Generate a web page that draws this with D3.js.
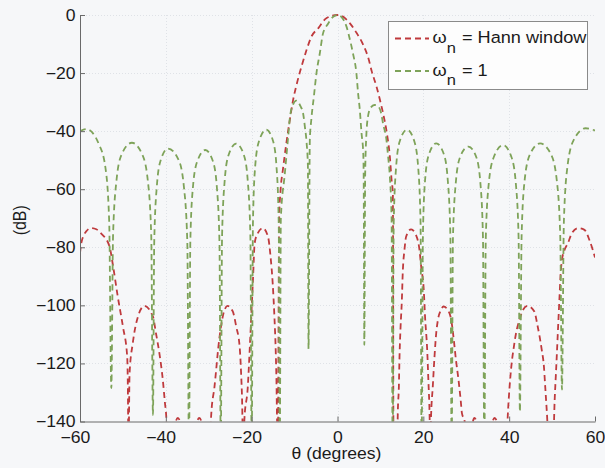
<!DOCTYPE html>
<html>
<head>
<meta charset="utf-8">
<script src="https://cdn.jsdelivr.net/npm/d3@7"></script>
<style>
  html, body { margin: 0; padding: 0; background: #f6f7f9; }
  svg { display: block; }
</style>
</head>
<body>
<div id="chart"></div>
<script>
// Angle axis ticks (degrees) and level axis ticks (dB)
const thetaTicks = [-60, -40, -20, 0, 20, 40, 60];
const dbTicks = [0, -20, -40, -60, -80, -100, -120, -140];

// Legend entries: weight name shown after "ω_n ="
const weightLabels = ["Hann window", "1"];
const seriesColors = ["#bf3a3d", "#7ea359"];

// Array pattern with Hann-window weights: [theta (deg), level (dB)]
const hannPattern = [
  [-60,-82],[-59.7,-78.6],[-58.6,-74.6],[-57.4,-73.4],[-56.2,-73.8],[-55.1,-75.2],[-53.1,-79.8],[-52.4,-85.5],[-51.2,-97],[-50.0,-107.3],[-49.0,-117.7],[-48.85,-128],[-48.7,-150],
  [-48.45,-123.4],[-47.7,-113],[-46.5,-103.9],[-45.0,-100.2],[-43.0,-103.9],[-42.3,-109.6],[-41.5,-116.5],[-40.7,-125.7],[-40.2,-133.7],[-39.9,-138.3],[-39.6,-150],
  [-37.2,-138.8],[-34.7,-150],[-32.2,-138.8],[-29.7,-150],
  [-29.45,-138.3],[-28.66,-128],[-27.5,-111],[-26.33,-101.6],[-25.6,-100.2],[-24.4,-102.1],[-23.6,-107.3],[-22.8,-114.2],[-22.46,-123.4],[-22.23,-132.6],[-22.0,-150],
  [-21.7,-139.5],[-20.9,-128],[-20.5,-116.5],[-20.1,-103.9],[-19.7,-91.3],[-19.3,-78.6],[-18.6,-75.2],[-17.4,-73.4],[-16.2,-76.3],[-15.6,-83.2],[-15.1,-92.4],[-14.7,-103.9],[-14.4,-115.4],[-14.2,-128],[-14.1,-138.3],[-13.9,-150],
  [-13.6,-70],[-13.3,-61],[-12.7,-53],[-12.0,-45],[-11.2,-37],[-10.35,-29.3],[-9.55,-24.1],[-8.4,-17.8],[-7.2,-12],[-6.1,-7.5],[-4.5,-4.6],[-2.6,-1.1],[0,0],
  [1.5,-0.8],[2.9,-2.9],[4.5,-6.3],[6.0,-10.3],[7.2,-14.9],[8.0,-19.5],[9.1,-24.7],[9.9,-29.3],[10.7,-34.4],[11.5,-40.7],[12.2,-48.8],[12.6,-56.8],[12.9,-61.4],[13.05,-150],
  [13.9,-150],[14.05,-137],[14.3,-128],[14.45,-117.7],[14.7,-107.3],[15.0,-98.1],[15.2,-88.9],[15.6,-80.9],[16.0,-76.3],[17.15,-73.8],[18.3,-75.8],[19.1,-80.9],[19.5,-86.7],[20.1,-94.7],[20.4,-103.9],[20.9,-115.4],[21.2,-126.8],[21.45,-137.2],[21.6,-150],
  [21.8,-138.3],[22.2,-128],[22.6,-117.7],[23.0,-109.6],[23.4,-105],[24.1,-101.6],[24.7,-100.4],[25.7,-101.6],[26.5,-105],[27.1,-111.9],[27.6,-118.8],[28.2,-125.7],[28.7,-132.6],[29.0,-137.2],[29.6,-139.7],[30.2,-150],
  [31.9,-138.8],[34.3,-150],[36.6,-138.8],[39.3,-150],
  [39.7,-137.2],[40.1,-128],[40.5,-121.1],[41.1,-114.2],[41.6,-109.6],[42.4,-105],[43.2,-101.6],[44.3,-100.2],[45.9,-102.2],[46.5,-106.2],[47.1,-110.8],[47.6,-115.4],[48.1,-121.1],[48.4,-128],[48.8,-137.2],[49.3,-150],
  [50.2,-150],[50.6,-132.6],[50.9,-123.4],[51.7,-98.1],[52.0,-88.9],[52.3,-84.4],[52.9,-80.9],[53.7,-78.6],[54.4,-75.8],[56.0,-73.4],[57.55,-74],[58.7,-77.5],[59.5,-81],[60,-83.5]
];

// Array pattern with uniform weights: [theta (deg), level (dB)]
const uniformPattern = [
  [-60,-40],[-58.5,-39.3],[-55.6,-44.5],[-54.1,-52.3],[-53.2,-71],[-52.7,-128.5],
  [-52.3,-76],[-51.5,-57],[-50.3,-48],[-47.9,-44],[-45.5,-48],[-44.2,-57],[-43.4,-76],[-43.0,-137.7],
  [-42.7,-78],[-42.1,-59],[-41.2,-50],[-39.5,-46],[-37.0,-50],[-35.8,-59],[-35.0,-78],[-34.6,-150],
  [-34.3,-78.5],[-33.7,-59.5],[-32.7,-50.5],[-30.8,-46.5],[-29.0,-50.5],[-28.1,-59.5],[-27.5,-78.5],[-27.2,-150],
  [-26.9,-76.3],[-26.3,-57.3],[-25.4,-48.3],[-23.6,-44.3],[-21.8,-48.3],[-20.9,-57.3],[-20.3,-76.3],[-20.0,-150],
  [-19.7,-71.5],[-19.2,-52.5],[-18.3,-43.5],[-16.6,-39.5],[-15.0,-43.5],[-14.2,-52.5],[-13.7,-71.5],[-13.45,-150],
  [-13.2,-70],[-12.3,-55],[-11.5,-42],[-11.1,-35.5],[-10.4,-31],[-9.6,-29.5],[-8.6,-31.5],[-8.0,-34],[-7.6,-38.5],[-7.2,-44],[-6.9,-52],[-6.75,-115],
  [-6.45,-43],[-6.1,-36],[-5.5,-28],[-4.9,-20],[-4.1,-13],[-3.4,-6.5],[-2.2,-3],[-1.0,-0.6],[0,0],
  [1.0,-0.8],[2.1,-4],[2.9,-8.5],[3.6,-13.2],[4.4,-20],[4.8,-27],[5.2,-32.7],[5.6,-40.7],[6.0,-47.6],[6.1,-56],[6.25,-113.6],
  [6.45,-55],[6.7,-42],[7.1,-35],[7.7,-32],[8.6,-31],[9.5,-31.5],[10.2,-34],[10.6,-37.3],[11.4,-43],[11.8,-48.8],[12.2,-55.7],[12.6,-70],[12.85,-150],
  [13.1,-71.5],[13.65,-52.5],[14.5,-43.5],[16.2,-39.5],[17.9,-43.5],[18.8,-52.5],[19.35,-71.5],[19.6,-150],
  [19.9,-76],[20.4,-57],[21.3,-48],[23.0,-44.2],[24.8,-48],[25.7,-57],[26.3,-76],[26.6,-150],
  [26.9,-77],[27.55,-58],[28.55,-49],[30.5,-45.3],[32.35,-49],[33.3,-58],[33.9,-77],[34.2,-150],
  [34.55,-77],[35.25,-58],[36.4,-49],[38.6,-44.8],[40.55,-49],[41.55,-58],[42.2,-77],[42.5,-136.6],
  [42.9,-76],[43.6,-57],[44.85,-48],[47.2,-44.2],[49.75,-48],[51.1,-57],[51.9,-76],[52.3,-129],
  [52.75,-71],[53.6,-52],[55.05,-43],[57.8,-39],[60,-39.8]
];

const W = 605, H = 468;
const FONT = "'Liberation Sans', Arial, Helvetica, sans-serif";
const STRETCH = "scale(1.1,1)";

const x = d3.scaleLinear().domain([-60, 60]).range([80, 595]);
const y = d3.scaleLinear().domain([-140, 0]).range([421.5, 15]);

const svg = d3.select("#chart").append("svg")
  .attr("width", W).attr("height", H)
  .attr("viewBox", `0 0 ${W} ${H}`);

svg.append("rect").attr("width", W).attr("height", H).attr("fill", "#f6f7f9");

// Faint dotted grid at every tick
const grid = svg.append("g").attr("stroke", "#dfe2e7").attr("stroke-width", 1)
  .attr("stroke-dasharray", "1,2");
grid.selectAll("line.v").data(thetaTicks.slice(1, -1)).join("line")
  .attr("x1", d => Math.round(x(d)) + 0.5).attr("x2", d => Math.round(x(d)) + 0.5)
  .attr("y1", y(0)).attr("y2", y(-140));
grid.selectAll("line.h").data(dbTicks.slice(0, -1)).join("line")
  .attr("y1", d => Math.round(y(d)) + 0.5).attr("y2", d => Math.round(y(d)) + 0.5)
  .attr("x1", x(-60)).attr("x2", x(60));

// Clip the patterns to the axes box
svg.append("clipPath").attr("id", "plotClip")
  .append("rect").attr("x", x(-60)).attr("y", 5)
  .attr("width", x(60) - x(-60)).attr("height", y(-140) - 5);

const line = d3.line()
  .x(d => x(d[0]))
  .y(d => y(d[1]))
  .curve(d3.curveMonotoneX);

const plot = svg.append("g").attr("clip-path", "url(#plotClip)");
[hannPattern, uniformPattern].forEach((data, i) => {
  plot.append("path")
    .datum(data)
    .attr("d", line)
    .attr("fill", "none")
    .attr("stroke", seriesColors[i])
    .attr("stroke-width", 1.8)
    .attr("stroke-dasharray", "6,4");
});

// Axes (left and bottom only, ticks pointing inward)
const minus = v => (v < 0 ? "\u2212" + Math.abs(v) : String(v));

const gy = svg.append("g")
  .attr("transform", `translate(${x(-60)},0)`)
  .call(d3.axisLeft(y).tickValues(dbTicks).tickSizeInner(-5).tickSizeOuter(0)
    .tickPadding(4).tickFormat(minus));

const gx = svg.append("g")
  .attr("transform", `translate(0,${y(-140)})`)
  .call(d3.axisBottom(x).tickValues(thetaTicks).tickSizeInner(-5).tickSizeOuter(0)
    .tickPadding(10).tickFormat(d => String(Math.abs(d))));

[gx, gy].forEach(g => {
  g.attr("font-family", FONT).attr("font-size", 16);
  g.select(".domain").attr("stroke", "#6a6a6a");
  g.selectAll(".tick line").attr("stroke", "#6a6a6a");
  g.selectAll(".tick text").attr("fill", "#1b1b1b").attr("transform", STRETCH);
});

// Negative angle labels: digits centred on the tick, minus sign hanging to the left
gx.selectAll(".tick").each(function (d) {
  if (d < 0) {
    const t = d3.select(this).select("text");
    const w = t.node().getComputedTextLength();
    d3.select(this).append("text")
      .attr("fill", "#1b1b1b")
      .attr("y", t.attr("y")).attr("dy", t.attr("dy"))
      .attr("x", -w / 2)
      .attr("text-anchor", "end")
      .attr("transform", STRETCH)
      .text("\u2212");
  }
});

// Axis titles
svg.append("g").attr("transform", `translate(${(x(-60) + x(60)) / 2 - 1},459) ${STRETCH}`)
  .append("text")
  .attr("font-family", FONT).attr("font-size", 16).attr("fill", "#1b1b1b")
  .attr("text-anchor", "middle")
  .text("\u03B8 (degrees)");

svg.append("g").attr("transform", `translate(26,${(y(0) + y(-140)) / 2 + 2}) ${STRETCH} rotate(-90)`)
  .append("text")
  .attr("font-family", FONT).attr("font-size", 16).attr("fill", "#1b1b1b")
  .attr("text-anchor", "middle")
  .text("(dB)");

// Legend
const legend = svg.append("g");
legend.append("rect")
  .attr("x", 388.5).attr("y", 21.5).attr("width", 199).attr("height", 68)
  .attr("fill", "#fdfdfd").attr("stroke", "#8a8a8a").attr("stroke-width", 1);

weightLabels.forEach((label, i) => {
  const cy = 38.5 + i * 32.5;
  legend.append("line")
    .attr("x1", 395).attr("x2", 429).attr("y1", cy).attr("y2", cy)
    .attr("stroke", seriesColors[i]).attr("stroke-width", 1.8)
    .attr("stroke-dasharray", "6,4");
  const t = legend.append("g")
    .attr("transform", `translate(432.5,${cy + 4.5}) ${STRETCH}`)
    .append("text")
    .attr("font-family", FONT).attr("font-size", 16.5).attr("fill", "#1b1b1b");
  t.append("tspan").text("\u03C9");
  t.append("tspan").attr("dy", 9.5).attr("font-size", 15).text("n");
  t.append("tspan").attr("dy", -9.5).attr("dx", 1).text(" = " + label);
});
</script>
</body>
</html>
